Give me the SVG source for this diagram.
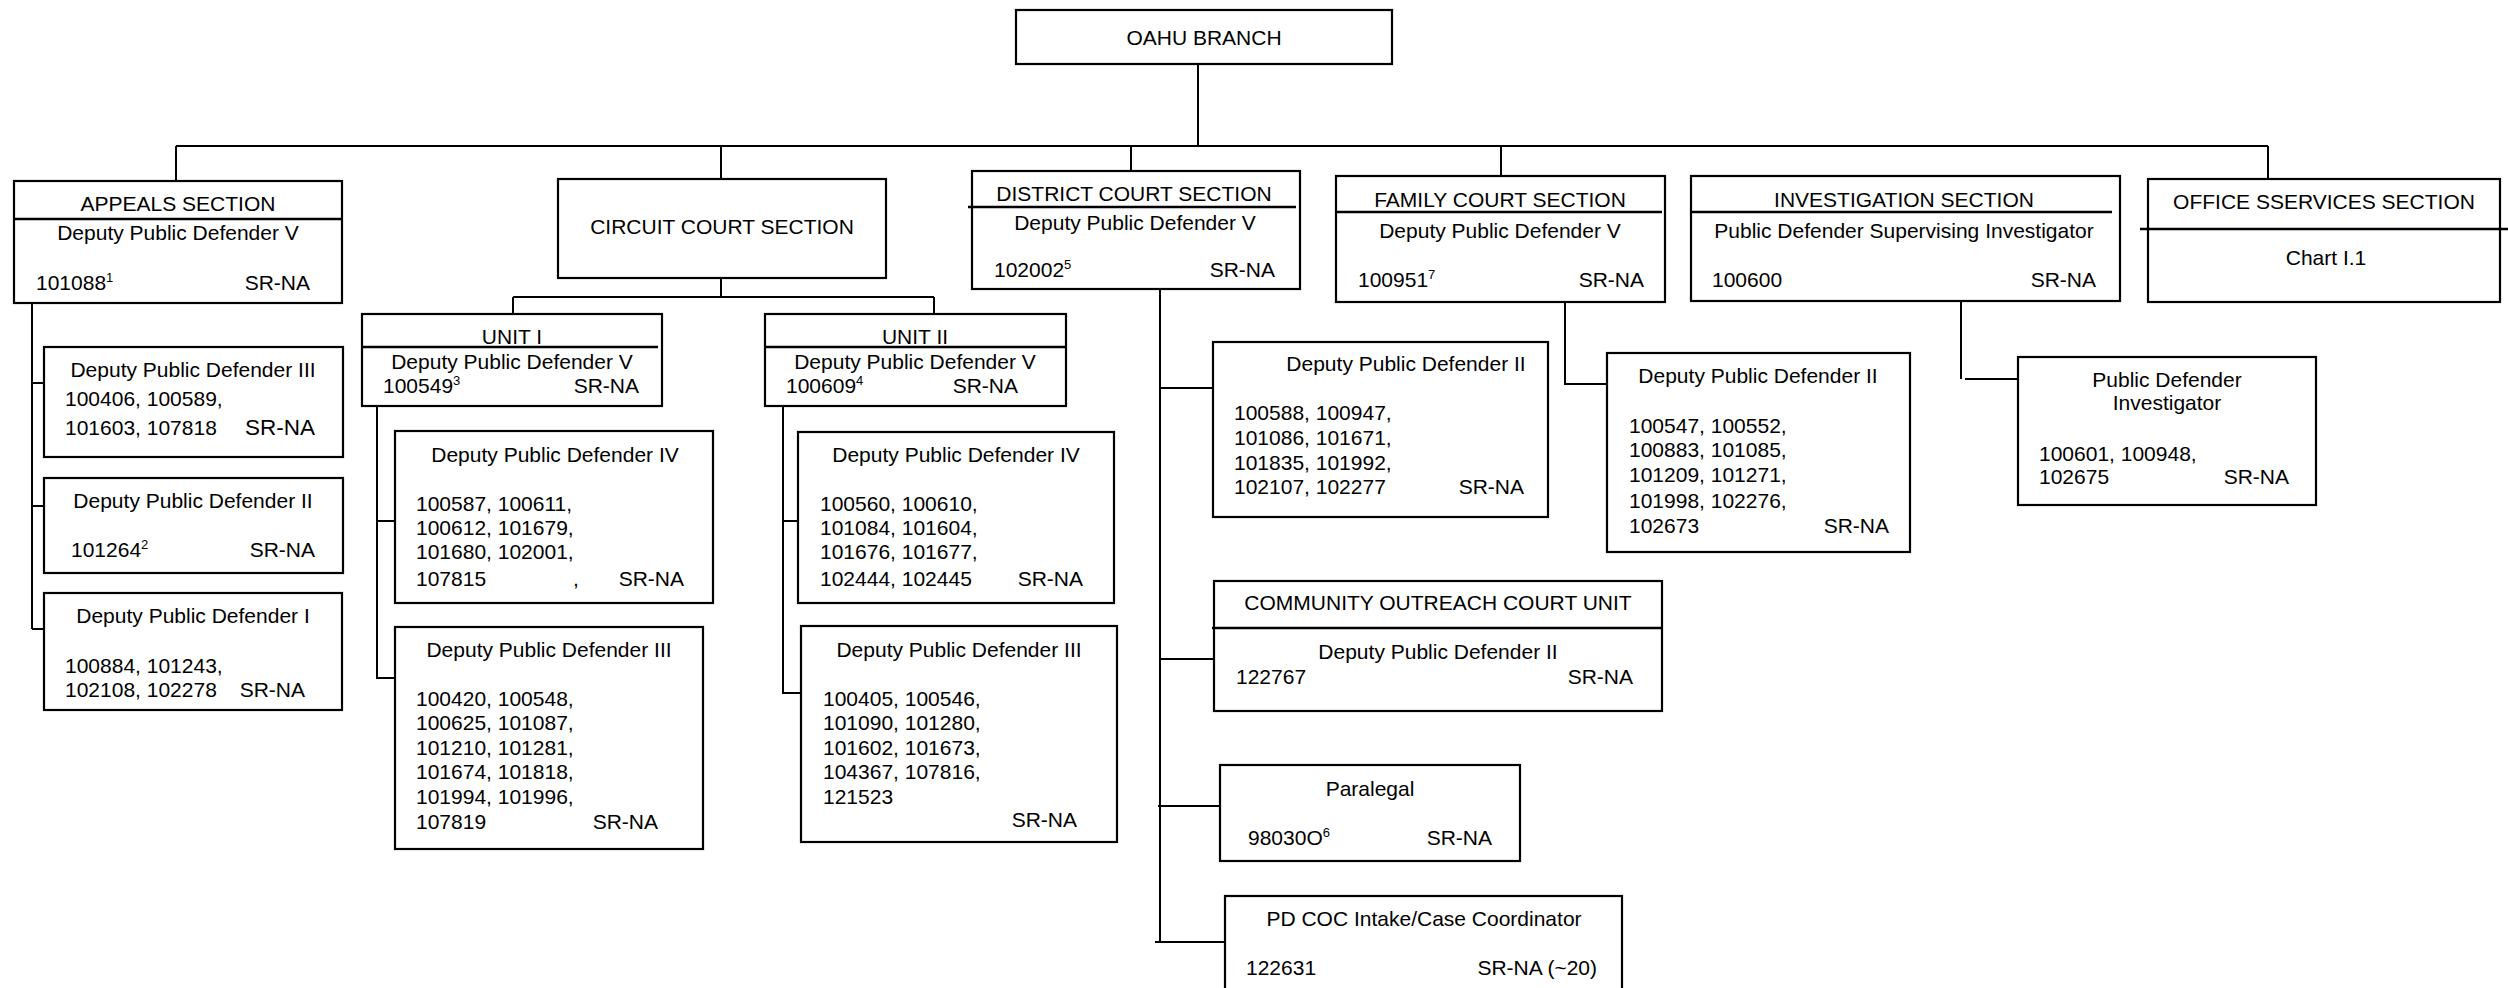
<svg xmlns="http://www.w3.org/2000/svg" width="2508" height="988" viewBox="0 0 2508 988">
<style>
.box{fill:#fff;stroke:#000;stroke-width:2.2}
.rule{stroke:#000;stroke-width:2.4;fill:none}
.conn path{stroke:#000;stroke-width:2;fill:none}
text{font-family:"Liberation Sans",Arial,sans-serif;font-size:21px;fill:#000}
.c{text-anchor:middle}
.e{text-anchor:end}
.sup{font-size:13px}
</style>
<rect width="2508" height="988" fill="#fff"/>
<g class="conn" id="connectors">
<path d="M1198 64V146M176 146H2268M176 146V181M721 146V179M1131 146V178M1501 146V176M2268 146V179"/>
<path d="M721 278V297M513 297H934M513 297V314M934 297V314"/>
<path d="M32 303V629M32 383H44M32 506H44M32 629H44"/>
<path d="M377 406V678H395M377 521H395"/>
<path d="M783 406V693H801M783 521H798"/>
<path d="M1160 289V942M1160 388H1213M1160 659H1214M1158 806H1226M1155 942H1229"/>
<path d="M1565 302V384H1607"/>
<path d="M1961 301V379M1965 379H2018"/>
</g>
<g id="oahu">
<rect class="box" x="1016" y="10" width="376" height="54"/>
<text class="c" x="1204" y="45">OAHU BRANCH</text>
</g>
<g id="appeals">
<rect class="box" x="14" y="181" width="328" height="122"/>
<path class="rule" d="M14 219H342"/>
<text class="c" x="178" y="211">APPEALS SECTION</text>
<text class="c" x="178" y="240">Deputy Public Defender V</text>
<text x="36" y="290">101088<tspan class="sup" dy="-8">1</tspan></text>
<text class="e" x="310" y="290">SR-NA</text>
</g>
<g id="appeals-dpd3">
<rect class="box" x="44" y="347" width="299" height="110"/>
<text class="c" x="193" y="377">Deputy Public Defender III</text>
<text x="65" y="406">100406, 100589,</text>
<text x="65" y="435">101603, 107818</text>
<text class="e" x="315" y="435" style="font-size:22.5px">SR-NA</text>
</g>
<g id="appeals-dpd2">
<rect class="box" x="44" y="478" width="299" height="95"/>
<text class="c" x="193" y="508">Deputy Public Defender II</text>
<text x="71" y="557">101264<tspan class="sup" dy="-8">2</tspan></text>
<text class="e" x="315" y="557">SR-NA</text>
</g>
<g id="appeals-dpd1">
<rect class="box" x="44" y="593" width="298" height="117"/>
<text class="c" x="193" y="623">Deputy Public Defender I</text>
<text x="65" y="673">100884, 101243,</text>
<text x="65" y="697">102108, 102278</text>
<text class="e" x="305" y="697">SR-NA</text>
</g>
<g id="circuit">
<rect class="box" x="558" y="179" width="328" height="99"/>
<text class="c" x="722" y="234">CIRCUIT COURT SECTION</text>
</g>
<g id="unit1">
<rect class="box" x="362" y="314" width="300" height="92"/>
<path class="rule" d="M362 347H658"/>
<text class="c" x="512" y="344">UNIT I</text>
<text class="c" x="512" y="369">Deputy Public Defender V</text>
<text x="383" y="393">100549<tspan class="sup" dy="-8">3</tspan></text>
<text class="e" x="639" y="393">SR-NA</text>
</g>
<g id="unit1-dpd4">
<rect class="box" x="395" y="431" width="318" height="172"/>
<text class="c" x="555" y="462">Deputy Public Defender IV</text>
<text x="416" y="511">100587, 100611,</text>
<text x="416" y="535">100612, 101679,</text>
<text x="416" y="559">101680, 102001,</text>
<text x="416" y="586">107815</text>
<text x="573" y="586">,</text>
<text class="e" x="684" y="586">SR-NA</text>
</g>
<g id="unit1-dpd3">
<rect class="box" x="395" y="627" width="308" height="222"/>
<text class="c" x="549" y="657">Deputy Public Defender III</text>
<text x="416" y="706">100420, 100548,</text>
<text x="416" y="730">100625, 101087,</text>
<text x="416" y="755">101210, 101281,</text>
<text x="416" y="779">101674, 101818,</text>
<text x="416" y="804">101994, 101996,</text>
<text x="416" y="829">107819</text>
<text class="e" x="658" y="829">SR-NA</text>
</g>
<g id="unit2">
<rect class="box" x="765" y="314" width="301" height="92"/>
<path class="rule" d="M765 347H1066"/>
<text class="c" x="915" y="344">UNIT II</text>
<text class="c" x="915" y="369">Deputy Public Defender V</text>
<text x="786" y="393">100609<tspan class="sup" dy="-8">4</tspan></text>
<text class="e" x="1018" y="393">SR-NA</text>
</g>
<g id="unit2-dpd4">
<rect class="box" x="798" y="432" width="316" height="171"/>
<text class="c" x="956" y="462">Deputy Public Defender IV</text>
<text x="820" y="511">100560, 100610,</text>
<text x="820" y="535">101084, 101604,</text>
<text x="820" y="559">101676, 101677,</text>
<text x="820" y="586">102444, 102445</text>
<text class="e" x="1083" y="586">SR-NA</text>
</g>
<g id="unit2-dpd3">
<rect class="box" x="801" y="626" width="316" height="216"/>
<text class="c" x="959" y="657">Deputy Public Defender III</text>
<text x="823" y="706">100405, 100546,</text>
<text x="823" y="730">101090, 101280,</text>
<text x="823" y="755">101602, 101673,</text>
<text x="823" y="779">104367, 107816,</text>
<text x="823" y="804">121523</text>
<text class="e" x="1077" y="827">SR-NA</text>
</g>
<g id="district">
<rect class="box" x="972" y="171" width="328" height="118"/>
<path class="rule" d="M968 207H1296"/>
<text class="c" x="1134" y="201">DISTRICT COURT SECTION</text>
<text class="c" x="1135" y="230">Deputy Public Defender V</text>
<text x="994" y="277">102002<tspan class="sup" dy="-8">5</tspan></text>
<text class="e" x="1275" y="277">SR-NA</text>
</g>
<g id="district-dpd2">
<rect class="box" x="1213" y="342" width="335" height="175"/>
<text class="c" x="1406" y="371">Deputy Public Defender II</text>
<text x="1234" y="420">100588, 100947,</text>
<text x="1234" y="445">101086, 101671,</text>
<text x="1234" y="470">101835, 101992,</text>
<text x="1234" y="494">102107, 102277</text>
<text class="e" x="1524" y="494">SR-NA</text>
</g>
<g id="community">
<rect class="box" x="1214" y="581" width="448" height="130"/>
<path class="rule" d="M1212 628H1662"/>
<text class="c" x="1438" y="610">COMMUNITY OUTREACH COURT UNIT</text>
<text class="c" x="1438" y="659">Deputy Public Defender II</text>
<text x="1236" y="684">122767</text>
<text class="e" x="1633" y="684">SR-NA</text>
</g>
<g id="paralegal">
<rect class="box" x="1220" y="765" width="300" height="96"/>
<text class="c" x="1370" y="796">Paralegal</text>
<text x="1248" y="845">98030O<tspan class="sup" dy="-8">6</tspan></text>
<text class="e" x="1492" y="845">SR-NA</text>
</g>
<g id="pdcoc">
<rect class="box" x="1225" y="896" width="397" height="120"/>
<text class="c" x="1424" y="926">PD COC Intake/Case Coordinator</text>
<text x="1246" y="975">122631</text>
<text class="e" x="1597" y="975">SR-NA (~20)</text>
</g>
<g id="family">
<rect class="box" x="1336" y="176" width="329" height="126"/>
<path class="rule" d="M1336 212H1662"/>
<text class="c" x="1500" y="207">FAMILY COURT SECTION</text>
<text class="c" x="1500" y="238">Deputy Public Defender V</text>
<text x="1358" y="287">100951<tspan class="sup" dy="-8">7</tspan></text>
<text class="e" x="1644" y="287">SR-NA</text>
</g>
<g id="family-dpd2">
<rect class="box" x="1607" y="353" width="303" height="199"/>
<text class="c" x="1758" y="383">Deputy Public Defender II</text>
<text x="1629" y="433">100547, 100552,</text>
<text x="1629" y="457">100883, 101085,</text>
<text x="1629" y="482">101209, 101271,</text>
<text x="1629" y="508">101998, 102276,</text>
<text x="1629" y="533">102673</text>
<text class="e" x="1889" y="533">SR-NA</text>
</g>
<g id="investigation">
<rect class="box" x="1691" y="176" width="429" height="125"/>
<path class="rule" d="M1691 212H2112"/>
<text class="c" x="1904" y="207">INVESTIGATION SECTION</text>
<text class="c" x="1904" y="238">Public Defender Supervising Investigator</text>
<text x="1712" y="287">100600</text>
<text class="e" x="2096" y="287">SR-NA</text>
</g>
<g id="investigator">
<rect class="box" x="2018" y="357" width="298" height="148"/>
<text class="c" x="2167" y="387">Public Defender</text>
<text class="c" x="2167" y="410">Investigator</text>
<text x="2039" y="461">100601, 100948,</text>
<text x="2039" y="484">102675</text>
<text class="e" x="2289" y="484">SR-NA</text>
</g>
<g id="office">
<rect class="box" x="2148" y="179" width="352" height="123"/>
<path class="rule" d="M2140 229H2508"/>
<text class="c" x="2324" y="209">OFFICE SSERVICES SECTION</text>
<text class="c" x="2326" y="265">Chart I.1</text>
</g>
</svg>
